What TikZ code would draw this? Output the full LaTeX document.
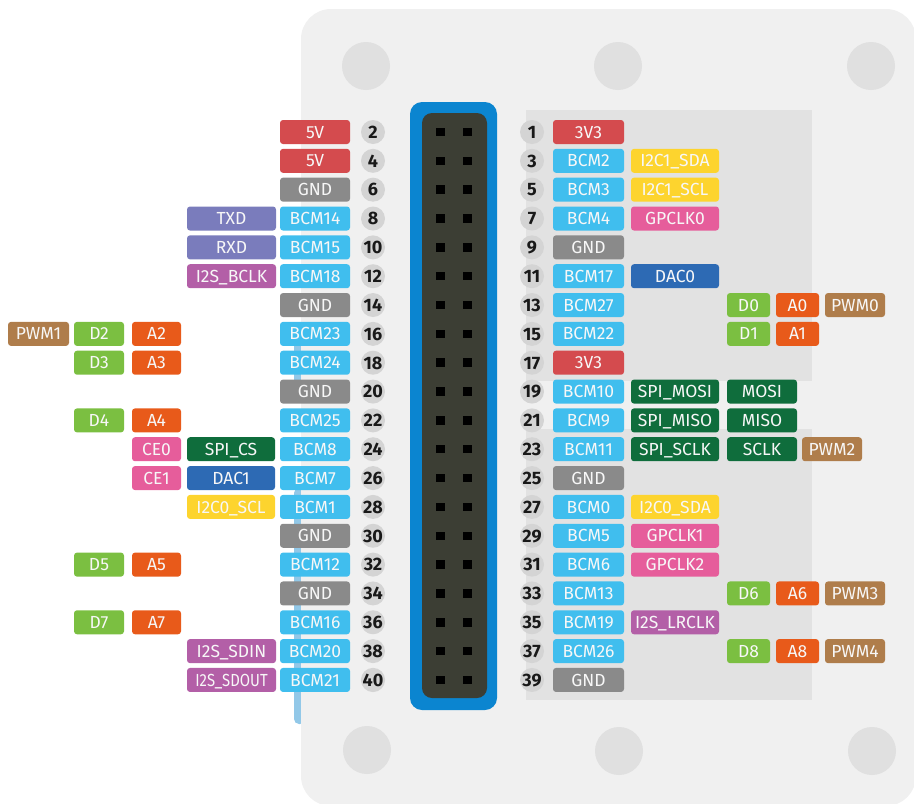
\documentclass[tikz,border=0pt]{standalone}
\usepackage{fontspec}
\usepackage{graphicx}
\setmainfont{Fira Sans}
\definecolor{boardc}{HTML}{F0F0F0}
\definecolor{panelc}{HTML}{E2E2E2}
\definecolor{holec}{HTML}{E0E0E0}
\definecolor{stripc}{HTML}{92C8E8}
\definecolor{connblue}{HTML}{0B85D0}
\definecolor{conninner}{HTML}{3C3E34}
\definecolor{numc}{HTML}{D4D4D4}
\definecolor{cred}{HTML}{D44B4E}
\definecolor{cgnd}{HTML}{8A8A8A}
\definecolor{cbcm}{HTML}{40BEEE}
\definecolor{cuart}{HTML}{7A7CBC}
\definecolor{ci2s}{HTML}{B35FA7}
\definecolor{ci2c}{HTML}{FDD42E}
\definecolor{cclk}{HTML}{E65D9B}
\definecolor{cdac}{HTML}{2D6AB4}
\definecolor{cspi}{HTML}{0F6D3C}
\definecolor{cdig}{HTML}{7BBF41}
\definecolor{cana}{HTML}{E85A1A}
\definecolor{cpwm}{HTML}{AF7D4B}
\newcommand\plab[6]{\node[lbl, fill=#5, minimum width=#3pt] (#1) at (#2, {132+28.84*#4}) {#6};}
\newcommand\pnum[4]{\node[pnumst] (#1) at (#2, {132+28.84*#3}) {#4};}
\begin{document}
\begin{tikzpicture}[x=1pt,y=-1pt,
  lbl/.style={rounded corners=3pt, inner sep=0pt, minimum height=24pt, text=white!97!black,
    font=\fontsize{17.5}{18}\selectfont, text height=12.2pt, text depth=0pt},
  pnumst/.style={circle, fill=numc, inner sep=0pt, minimum size=24pt, text=black!90,
    font=\fontsize{18}{18}\selectfont\bfseries, text height=12.6pt, text depth=0pt},
  pinsq/.style={fill=black, minimum size=8.5pt, inner sep=0pt}]
\useasboundingbox (0,0) rectangle (914,804);
% blue strips on the left edge
\fill[stripc] (294,336) rectangle (301,384);
\fill[stripc, rounded corners=5pt] (294,488) -- (294,724) -- (305,724) -- (305,488) -- cycle;
% board
\fill[boardc, rounded corners=30pt] (301,9) rectangle (916,806);
% mounting holes
\foreach \hx/\hy [count=\k] in {366/66, 618/66, 871/66, 367/750, 619/751, 872/751}
  \fill[holec] (\hx,\hy) circle (24pt);
% gray panels
\fill[panelc] (526,110) rectangle (812,381);
\fill[panelc] (526,429) rectangle (812,700);
% connector
\node[fill=connblue, rounded corners=12pt, minimum width=87pt, minimum height=608pt, inner sep=0pt] (connout) at (453.5,406) {};
\node[fill=conninner, rounded corners=10pt, minimum width=65pt, minimum height=585pt, inner sep=0pt] (connin) at (454.5,405.5) {};
\foreach \i in {0,...,19}{
  \node[pinsq] (pa\i) at (440.5, {132+28.84*\i}) {};
  \node[pinsq] (pb\i) at (467.5, {132+28.84*\i}) {};
}
% pin numbers
\foreach \i in {0,...,19}{
  \pgfmathtruncatemacro\ev{2*\i+2}
  \pgfmathtruncatemacro\od{2*\i+1}
  \pnum{nl\i}{373}{\i}{\ev}
  \pnum{nr\i}{532}{\i}{\od}
}
% ---------- left side ----------
\plab{lb0}{315}{70}{0}{cred}{5V}
\plab{lb1}{315}{70}{1}{cred}{5V}
\plab{lb2}{315}{70}{2}{cgnd}{GND}
\plab{lb3}{315}{70}{3}{cbcm}{BCM14}
\plab{lb4}{315}{70}{4}{cbcm}{BCM15}
\plab{lb5}{315}{70}{5}{cbcm}{BCM18}
\plab{lb6}{315}{70}{6}{cgnd}{GND}
\plab{lb7}{315}{70}{7}{cbcm}{BCM23}
\plab{lb8}{315}{70}{8}{cbcm}{BCM24}
\plab{lb9}{315}{70}{9}{cgnd}{GND}
\plab{lb10}{315}{70}{10}{cbcm}{BCM25}
\plab{lb11}{315}{70}{11}{cbcm}{BCM8}
\plab{lb12}{315}{70}{12}{cbcm}{BCM7}
\plab{lb13}{315}{70}{13}{cbcm}{BCM1}
\plab{lb14}{315}{70}{14}{cgnd}{GND}
\plab{lb15}{315}{70}{15}{cbcm}{BCM12}
\plab{lb16}{315}{70}{16}{cgnd}{GND}
\plab{lb17}{315}{70}{17}{cbcm}{BCM16}
\plab{lb18}{315}{70}{18}{cbcm}{BCM20}
\plab{lb19}{315}{70}{19}{cbcm}{BCM21}
% left column 2
\plab{lf3}{231.5}{89}{3}{cuart}{TXD}
\plab{lf4}{231.5}{89}{4}{cuart}{RXD}
\plab{lf5}{231.5}{89}{5}{ci2s}{I2S\_BCLK}
\plab{lf11}{231}{88}{11}{cspi}{SPI\_CS}
\plab{lf12}{231}{88}{12}{cdac}{DAC1}
\plab{lf13}{231}{88}{13}{ci2c}{I2C0\_SCL}
\plab{lf18}{231.5}{89}{18}{ci2s}{I2S\_SDIN}
\plab{lf19}{231.5}{89}{19}{ci2s}{\scalebox{0.85}[1]{I2S\_SDOUT}}
% left column 3
\plab{lc7}{156.5}{49}{7}{cana}{A2}
\plab{lc8}{156.5}{49}{8}{cana}{A3}
\plab{lc10}{156.5}{49}{10}{cana}{A4}
\plab{lc11}{156.5}{49}{11}{cclk}{CE0}
\plab{lc12}{156.5}{49}{12}{cclk}{CE1}
\plab{lc15}{156.5}{49}{15}{cana}{A5}
\plab{lc17}{156.5}{49}{17}{cana}{A7}
% left D column
\plab{ld7}{99}{50}{7}{cdig}{D2}
\plab{ld8}{99}{50}{8}{cdig}{D3}
\plab{ld10}{99}{50}{10}{cdig}{D4}
\plab{ld15}{99}{50}{15}{cdig}{D5}
\plab{ld17}{99}{50}{17}{cdig}{D7}
% PWM1
\plab{lp7}{38.5}{61}{7}{cpwm}{PWM1}
% ---------- right side ----------
\plab{rb0}{588.5}{71}{0}{cred}{3V3}
\plab{rb1}{588.5}{71}{1}{cbcm}{BCM2}
\plab{rb2}{588.5}{71}{2}{cbcm}{BCM3}
\plab{rb3}{588.5}{71}{3}{cbcm}{BCM4}
\plab{rb4}{588.5}{71}{4}{cgnd}{GND}
\plab{rb5}{588.5}{71}{5}{cbcm}{BCM17}
\plab{rb6}{588.5}{71}{6}{cbcm}{BCM27}
\plab{rb7}{588.5}{71}{7}{cbcm}{BCM22}
\plab{rb8}{588.5}{71}{8}{cred}{3V3}
\plab{rb9}{588.5}{71}{9}{cbcm}{BCM10}
\plab{rb10}{588.5}{71}{10}{cbcm}{BCM9}
\plab{rb11}{588.5}{71}{11}{cbcm}{BCM11}
\plab{rb12}{588.5}{71}{12}{cgnd}{GND}
\plab{rb13}{588.5}{71}{13}{cbcm}{BCM0}
\plab{rb14}{588.5}{71}{14}{cbcm}{BCM5}
\plab{rb15}{588.5}{71}{15}{cbcm}{BCM6}
\plab{rb16}{588.5}{71}{16}{cbcm}{BCM13}
\plab{rb17}{588.5}{71}{17}{cbcm}{BCM19}
\plab{rb18}{588.5}{71}{18}{cbcm}{BCM26}
\plab{rb19}{588.5}{71}{19}{cgnd}{GND}
% right column 2
\plab{rf1}{675}{88}{1}{ci2c}{I2C1\_SDA}
\plab{rf2}{675}{88}{2}{ci2c}{I2C1\_SCL}
\plab{rf3}{675}{88}{3}{cclk}{GPCLK0}
\plab{rf5}{675}{88}{5}{cdac}{DAC0}
\plab{rf9}{675}{88}{9}{cspi}{SPI\_MOSI}
\plab{rf10}{675}{88}{10}{cspi}{SPI\_MISO}
\plab{rf11}{675}{88}{11}{cspi}{SPI\_SCLK}
\plab{rf13}{675}{88}{13}{ci2c}{I2C0\_SDA}
\plab{rf14}{675}{88}{14}{cclk}{GPCLK1}
\plab{rf15}{675}{88}{15}{cclk}{GPCLK2}
\plab{rf17}{675}{88}{17}{ci2s}{I2S\_LRCLK}
% right D / A / PWM
\plab{rd6}{748.5}{43}{6}{cdig}{D0}
\plab{rd7}{748.5}{43}{7}{cdig}{D1}
\plab{rd16}{748.5}{43}{16}{cdig}{D6}
\plab{rd18}{748.5}{43}{18}{cdig}{D8}
\plab{ra6}{797.5}{43}{6}{cana}{A0}
\plab{ra7}{797.5}{43}{7}{cana}{A1}
\plab{ra16}{797.5}{43}{16}{cana}{A6}
\plab{ra18}{797.5}{43}{18}{cana}{A8}
\plab{rp6}{855}{60}{6}{cpwm}{PWM0}
\plab{rp16}{855}{60}{16}{cpwm}{PWM3}
\plab{rp18}{855}{60}{18}{cpwm}{PWM4}
% SPI short names
\plab{rs9}{762}{70}{9}{cspi}{MOSI}
\plab{rs10}{762}{70}{10}{cspi}{MISO}
\plab{rs11}{762}{70}{11}{cspi}{SCLK}
\plab{rp11}{832}{60}{11}{cpwm}{PWM2}
\end{tikzpicture}
\end{document}
